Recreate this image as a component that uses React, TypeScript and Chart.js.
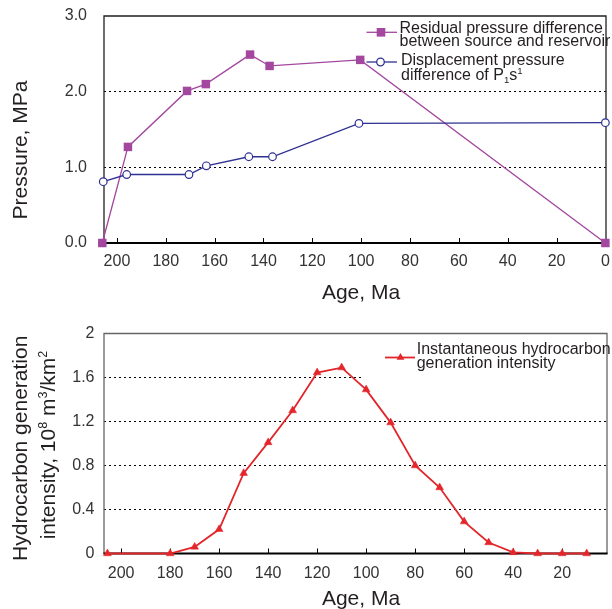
import React, { useEffect, useRef } from "react";
import { Chart, registerables } from "chart.js";

Chart.register(...registerables);

const FONT = '"Liberation Sans", Arial, Helvetica, sans-serif';
const PURPLE = "#A3479F";
const NAVY = "#2E3192";
const RED = "#E2262B";
const TEXT = "#231F20";
const TICKTEXT = "#333333";

// ---- Top chart data (Age, Ma -> Pressure, MPa)
const residualAges = [206, 195.5, 171.3, 163.6, 145.5, 137.5, 100.4, 0];
const residualValues = [0, 1.27, 2.01, 2.1, 2.49, 2.34, 2.42, 0];
const displacementAges = [205.6, 196, 170.5, 163.4, 146, 136.3, 100.9, 0];
const displacementValues = [0.81, 0.905, 0.905, 1.02, 1.14, 1.14, 1.58, 1.59];
const topAgeTicks = [200, 180, 160, 140, 120, 100, 80, 60, 40, 20, 0];
const pressureTicks = [0, 1, 2, 3];
const pressureGridValues = [1, 2];

// ---- Bottom chart data (Age, Ma -> intensity)
const genAges = [205.6, 180, 170, 160, 150, 140, 130, 120, 110, 100, 90, 80, 70, 60, 50, 40, 30, 20, 10];
const genValues = [0, 0, 0.06, 0.22, 0.73, 1.01, 1.3, 1.645, 1.69, 1.49, 1.19, 0.8, 0.6, 0.29, 0.1, 0.01, 0, 0, 0];
const bottomAgeTicks = [200, 180, 160, 140, 120, 100, 80, 60, 40, 20];
const intensityTicks = [0, 0.4, 0.8, 1.2, 1.6, 2];
const intensityGridValues = [0.4, 0.8, 1.2, 1.6];

type Part = { t: string; s?: "sup" | "sub" };

function drawRich(ctx: CanvasRenderingContext2D, parts: Part[], x: number, y: number, size: number, align: "left" | "center") {
  const small = size * 0.6;
  const widths = parts.map((p) => {
    ctx.font = `${p.s ? small : size}px ${FONT}`;
    return ctx.measureText(p.t).width;
  });
  const total = widths.reduce((a, b) => a + b, 0);
  let cx = align === "center" ? x - total / 2 : x;
  ctx.textAlign = "left";
  ctx.textBaseline = "alphabetic";
  parts.forEach((p, i) => {
    ctx.font = `${p.s ? small : size}px ${FONT}`;
    const dy = p.s === "sup" ? -size * 0.36 : p.s === "sub" ? size * 0.22 : 0;
    ctx.fillText(p.t, cx, y + dy);
    cx += widths[i];
  });
}

function drawInwardTicks(chart: any, color: string) {
  const ctx = chart.ctx as CanvasRenderingContext2D;
  const xs = chart.scales.x;
  const area = chart.chartArea;
  ctx.save();
  ctx.strokeStyle = color;
  ctx.lineWidth = 1;
  xs.ticks.forEach((t: any) => {
    const px = Math.round(xs.getPixelForValue(t.value)) + 0.5;
    if (px > area.left + 2 && px < area.right - 2) {
      ctx.beginPath();
      ctx.moveTo(px, area.bottom);
      ctx.lineTo(px, area.bottom - 5);
      ctx.stroke();
    }
  });
  ctx.restore();
}

function drawFrame(chart: any, sideColor: string) {
  const ctx = chart.ctx as CanvasRenderingContext2D;
  const a = chart.chartArea;
  ctx.save();
  ctx.strokeStyle = sideColor;
  ctx.lineWidth = 1.3;
  ctx.beginPath();
  ctx.moveTo(a.left, a.bottom);
  ctx.lineTo(a.left, a.top);
  ctx.lineTo(a.right, a.top);
  ctx.lineTo(a.right, a.bottom);
  ctx.stroke();
  ctx.strokeStyle = "#000";
  ctx.lineWidth = 2;
  ctx.beginPath();
  ctx.moveTo(a.left - 0.6, a.bottom);
  ctx.lineTo(a.right + 0.6, a.bottom);
  ctx.stroke();
  ctx.restore();
}

function gridColor(values: number[]) {
  return (c: any) => {
    const v = c && c.tick ? c.tick.value : NaN;
    return values.some((g) => Math.abs(g - v) < 1e-6) ? "#000" : "rgba(0,0,0,0)";
  };
}

const topPlugin = {
  id: "topDecor",
  beforeDatasetsDraw(chart: any) {
    drawFrame(chart, "#231F20");
    drawInwardTicks(chart, "#000");
  },
  afterDatasetsDraw(chart: any) {
    const ctx = chart.ctx as CanvasRenderingContext2D;
    ctx.save();
    // legend entry 1
    ctx.strokeStyle = PURPLE;
    ctx.lineWidth = 1.3;
    ctx.beginPath();
    ctx.moveTo(366.5, 32.3);
    ctx.lineTo(397, 32.3);
    ctx.stroke();
    ctx.fillStyle = PURPLE;
    ctx.fillRect(381 - 4.3, 32.3 - 4.3, 8.6, 8.6);
    // legend entry 2
    ctx.strokeStyle = NAVY;
    ctx.lineWidth = 1.3;
    ctx.beginPath();
    ctx.moveTo(366.5, 62);
    ctx.lineTo(397, 62);
    ctx.stroke();
    ctx.fillStyle = "#fff";
    ctx.beginPath();
    ctx.arc(380.5, 62, 3.8, 0, Math.PI * 2);
    ctx.fill();
    ctx.stroke();
    ctx.fillStyle = TEXT;
    drawRich(ctx, [{ t: "Residual pressure difference" }], 399.5, 32.5, 16, "left");
    drawRich(ctx, [{ t: "between source and reservoir" }], 399.5, 46, 16, "left");
    drawRich(ctx, [{ t: "Displacement pressure" }], 401, 65, 16, "left");
    drawRich(ctx, [{ t: "difference of P" }, { t: "1", s: "sub" }, { t: "s" }, { t: "1", s: "sup" }], 401, 79.5, 16, "left");
    // axis titles
    drawRich(ctx, [{ t: "Age, Ma" }], 361, 298.5, 21, "center");
    ctx.translate(27, 150);
    ctx.rotate(-Math.PI / 2);
    drawRich(ctx, [{ t: "Pressure, MPa" }], 0, 0, 21, "center");
    ctx.restore();
  },
};

const bottomPlugin = {
  id: "bottomDecor",
  beforeDatasetsDraw(chart: any) {
    const ctx = chart.ctx as CanvasRenderingContext2D;
    const a = chart.chartArea;
    // legend box background hiding part of the top gridline
    ctx.save();
    ctx.fillStyle = "#fff";
    ctx.fillRect(362, a.top + 1, a.right - 1 - 362, 47);
    ctx.restore();
    drawFrame(chart, "#666666");
    drawInwardTicks(chart, "#000");
  },
  afterDatasetsDraw(chart: any) {
    const ctx = chart.ctx as CanvasRenderingContext2D;
    ctx.save();
    ctx.strokeStyle = RED;
    ctx.lineWidth = 1.8;
    ctx.beginPath();
    ctx.moveTo(385, 57.5);
    ctx.lineTo(415, 57.5);
    ctx.stroke();
    ctx.fillStyle = RED;
    const r = 4.5;
    ctx.beginPath();
    ctx.moveTo(400.5, 57.5 - r);
    ctx.lineTo(400.5 + r * 0.866, 57.5 + r * 0.5);
    ctx.lineTo(400.5 - r * 0.866, 57.5 + r * 0.5);
    ctx.closePath();
    ctx.fill();
    ctx.fillStyle = TEXT;
    drawRich(ctx, [{ t: "Instantaneous hydrocarbon" }], 416.7, 54.3, 16, "left");
    drawRich(ctx, [{ t: "generation intensity" }], 416.7, 67.5, 16, "left");
    drawRich(ctx, [{ t: "Age, Ma" }], 361, 305, 21, "center");
    ctx.save();
    ctx.translate(27, 148.3);
    ctx.rotate(-Math.PI / 2);
    drawRich(ctx, [{ t: "Hydrocarbon generation" }], 0, 0, 21, "center");
    ctx.restore();
    ctx.translate(55, 145);
    ctx.rotate(-Math.PI / 2);
    drawRich(
      ctx,
      [
        { t: "intensity, 10" },
        { t: "8", s: "sup" },
        { t: " m" },
        { t: "3", s: "sup" },
        { t: "/km" },
        { t: "2", s: "sup" },
      ],
      0,
      0,
      21,
      "center"
    );
    ctx.restore();
  },
};

function tickFont() {
  return { size: 16, family: FONT };
}

function TopChart() {
  const ref = useRef<HTMLCanvasElement>(null);
  useEffect(() => {
    const chart = new Chart(ref.current as HTMLCanvasElement, {
      type: "line",
      data: {
        datasets: [
          {
            label: "Displacement pressure difference of P1s1",
            data: displacementAges.map((x, i) => ({ x, y: displacementValues[i] })),
            borderColor: NAVY,
            backgroundColor: "#fff",
            borderWidth: 1.3,
            pointStyle: "circle",
            pointRadius: 3.8,
            pointBorderWidth: 1.2,
            pointBorderColor: NAVY,
            pointBackgroundColor: "#fff",
            clip: false,
            tension: 0,
          } as any,
          {
            label: "Residual pressure difference between source and reservoir",
            data: residualAges.map((x, i) => ({ x, y: residualValues[i] })),
            borderColor: PURPLE,
            backgroundColor: PURPLE,
            borderWidth: 1.3,
            pointStyle: "rect",
            pointRadius: 6,
            pointBorderWidth: 0,
            pointBackgroundColor: PURPLE,
            clip: false,
            tension: 0,
          } as any,
        ],
      },
      options: {
        responsive: false,
        animation: false,
        devicePixelRatio: 1,
        events: [],
        layout: { padding: { top: 16, right: 1, left: 0, bottom: 0 } },
        plugins: { legend: { display: false }, tooltip: { enabled: false } },
        scales: {
          x: {
            type: "linear",
            reverse: true,
            min: -0.25,
            max: 205.3,
            afterBuildTicks: (s: any) => {
              s.ticks = topAgeTicks.map((v) => ({ value: v }));
            },
            afterFit: (s: any) => {
              s.height = 62;
              s.paddingLeft = 0;
              s.paddingRight = 0;
            },
            ticks: { autoSkip: false, maxRotation: 0, minRotation: 0, padding: 9, font: tickFont(), color: TICKTEXT },
            grid: { display: false, drawTicks: false },
            border: { display: false },
          },
          y: {
            type: "linear",
            min: 0,
            max: 3,
            afterBuildTicks: (s: any) => {
              s.ticks = pressureTicks.map((v) => ({ value: v }));
            },
            afterFit: (s: any) => {
              s.width = 104;
              s.paddingTop = 0;
              s.paddingBottom = 0;
            },
            ticks: {
              padding: 17,
              font: tickFont(),
              color: TICKTEXT,
              callback: (v: any) => Number(v).toFixed(1),
            },
            grid: { drawTicks: false, color: gridColor(pressureGridValues), lineWidth: 1 },
            border: { display: false, dash: [2, 3] },
          },
        },
      } as any,
      plugins: [topPlugin],
    });
    return () => chart.destroy();
  }, []);
  return (
    <canvas
      ref={ref}
      width={612}
      height={305}
      style={{ display: "block", position: "absolute", left: 0, top: 0, width: 612, height: 305 }}
    />
  );
}

function BottomChart() {
  const ref = useRef<HTMLCanvasElement>(null);
  useEffect(() => {
    const chart = new Chart(ref.current as HTMLCanvasElement, {
      type: "line",
      data: {
        datasets: [
          {
            label: "Instantaneous hydrocarbon generation intensity",
            data: genAges.map((x, i) => ({ x, y: genValues[i] })),
            borderColor: RED,
            backgroundColor: RED,
            borderWidth: 1.8,
            pointStyle: "triangle",
            pointRadius: 4.5,
            pointBorderWidth: 0.5,
            pointBorderColor: RED,
            pointBackgroundColor: RED,
            clip: false,
            tension: 0,
          } as any,
        ],
      },
      options: {
        responsive: false,
        animation: false,
        devicePixelRatio: 1,
        events: [],
        layout: { padding: { top: 33.5, right: 1, left: 0, bottom: 0 } },
        plugins: { legend: { display: false }, tooltip: { enabled: false } },
        scales: {
          x: {
            type: "linear",
            reverse: true,
            min: 1.7,
            max: 207,
            afterBuildTicks: (s: any) => {
              s.ticks = bottomAgeTicks.map((v) => ({ value: v }));
            },
            afterFit: (s: any) => {
              s.height = 55.5;
              s.paddingLeft = 0;
              s.paddingRight = 0;
            },
            ticks: { autoSkip: false, maxRotation: 0, minRotation: 0, padding: 10, font: tickFont(), color: TICKTEXT },
            grid: { display: false, drawTicks: false },
            border: { display: false },
          },
          y: {
            type: "linear",
            min: 0,
            max: 2,
            afterBuildTicks: (s: any) => {
              s.ticks = intensityTicks.map((v) => ({ value: v }));
            },
            afterFit: (s: any) => {
              s.width = 104;
              s.paddingTop = 0;
              s.paddingBottom = 0;
            },
            ticks: {
              padding: 9.5,
              font: tickFont(),
              color: TICKTEXT,
              callback: (v: any) => String(Math.round(Number(v) * 10) / 10),
            },
            grid: { drawTicks: false, color: gridColor(intensityGridValues), lineWidth: 1 },
            border: { display: false, dash: [2, 3] },
          },
        },
      } as any,
      plugins: [bottomPlugin],
    });
    return () => chart.destroy();
  }, []);
  return (
    <canvas
      ref={ref}
      width={612}
      height={309}
      style={{ display: "block", position: "absolute", left: 0, top: 300, width: 612, height: 309 }}
    />
  );
}

export default function App() {
  return (
    <div style={{ position: "absolute", left: 0, top: 0, width: 612, height: 609, background: "#fff", overflow: "hidden" }}>
      <TopChart />
      <BottomChart />
    </div>
  );
}
